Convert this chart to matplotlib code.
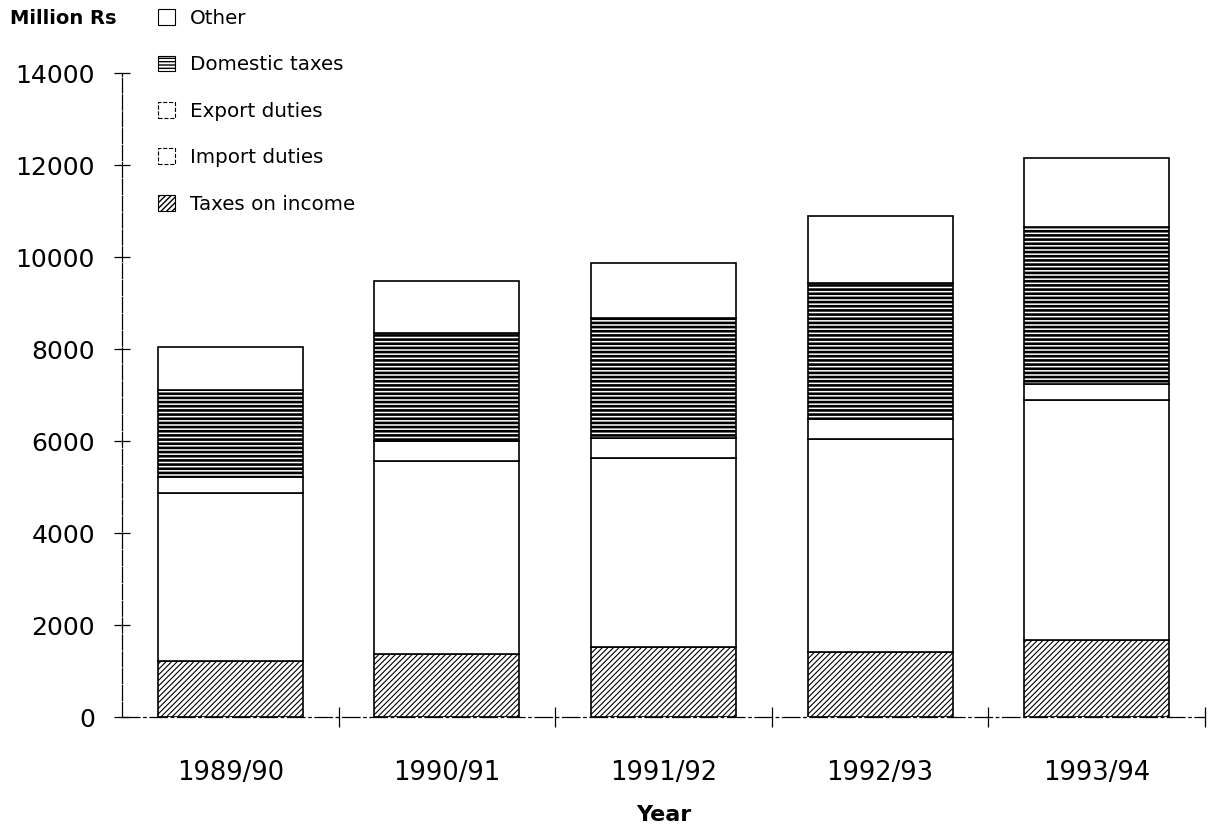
import matplotlib
matplotlib.use("Agg")
import matplotlib.pyplot as plt
from matplotlib.patches import Patch
import numpy as np

# -------- DATA (Million Rs) --------
years = ['1989/90', '1990/91', '1991/92', '1992/93', '1993/94']
taxes_on_income = [1220, 1380, 1530, 1420, 1680]
import_duties = [3660, 4190, 4110, 4630, 5220]
export_duties = [340, 430, 420, 430, 350]
domestic_taxes = [1890, 2350, 2620, 2960, 3400]
other = [940, 1130, 1200, 1460, 1500]
y_ticks = [0, 2000, 4000, 6000, 8000, 10000, 12000, 14000]
# -------- DATA. --------

plt.rcParams['font.family'] = ['DejaVu Sans']

fig = plt.figure(figsize=(12.13, 8.25), dpi=100)
ax = fig.add_axes([0.1006, 0.1309, 0.8928, 0.7806])

x = np.arange(len(years))
width = 0.67
# (values, hatch, hatch line width, label)
series = [
    (taxes_on_income, '//////', 0.8, 'Taxes on income'),
    (import_duties, '', 1.0, 'Import duties'),
    (export_duties, '', 1.0, 'Export duties'),
    (domestic_taxes, '----', 1.9, 'Domestic taxes'),
    (other, '', 1.0, 'Other'),
]
bottom = np.zeros(len(years))
for vals, hatch, hlw, label in series:
    with plt.rc_context({'hatch.linewidth': hlw}):
        bars = ax.bar(x, vals, width, bottom=bottom, facecolor='white', edgecolor='black',
                      linewidth=1.2, hatch=hatch, label=label)
    for b in bars:
        if hasattr(b, 'set_hatch_linewidth'):
            b.set_hatch_linewidth(hlw)
    bottom += np.array(vals)

ax.set_xlim(-0.5, len(years) - 0.5)
ax.set_ylim(0, 14000)

# ---- axes styling
for side in ['top', 'right']:
    ax.spines[side].set_visible(False)
ax.spines['left'].set_linewidth(0.9)
ax.spines['left'].set_linestyle((0, (12, 1.5)))
ax.spines['bottom'].set_linewidth(0.9)
ax.spines['bottom'].set_linestyle((0, (14, 3, 2, 3)))

ax.set_yticks(y_ticks)
ax.tick_params(axis='y', direction='inout', length=11, width=0.9, pad=14, labelsize=18)
ax.set_xticks(x)
ax.set_xticklabels(years)
ax.tick_params(axis='x', which='major', length=0, pad=31, labelsize=18.5)
ax.set_xticks(list(x + 0.5), minor=True)
ax.tick_params(axis='x', which='minor', direction='inout', length=14, width=0.9)

fig.text(0.008, 0.978, 'Million Rs', fontsize=14, fontweight='bold', va='center', ha='left')
fig.text(0.547, 0.012, 'Year', fontsize=16, fontweight='bold', va='center', ha='center')

# ---- legend
def legend_patch(hatch='', ls='-', hlw=1.0):
    p = Patch(facecolor='white', edgecolor='black', linewidth=0.8, hatch=hatch, linestyle=ls)
    if hasattr(p, 'set_hatch_linewidth'):
        p.set_hatch_linewidth(hlw)
    return p

handles = [
    legend_patch(),
    legend_patch('-----', hlw=1.6),
    legend_patch(ls='--'),
    legend_patch(ls='--'),
    legend_patch('//////', hlw=0.8),
]
labels = ['Other', 'Domestic taxes', 'Export duties', 'Import duties', 'Taxes on income']
fig.legend(handles=handles, labels=labels, loc='upper left',
           bbox_to_anchor=(158 / 1213, 1 - 9 / 825), bbox_transform=fig.transFigure,
           frameon=False, fontsize=14.3, handlelength=0.85, handleheight=0.85,
           handletextpad=0.75, labelspacing=1.38, borderpad=0, borderaxespad=0)

plt.savefig('out.png', dpi=100)
